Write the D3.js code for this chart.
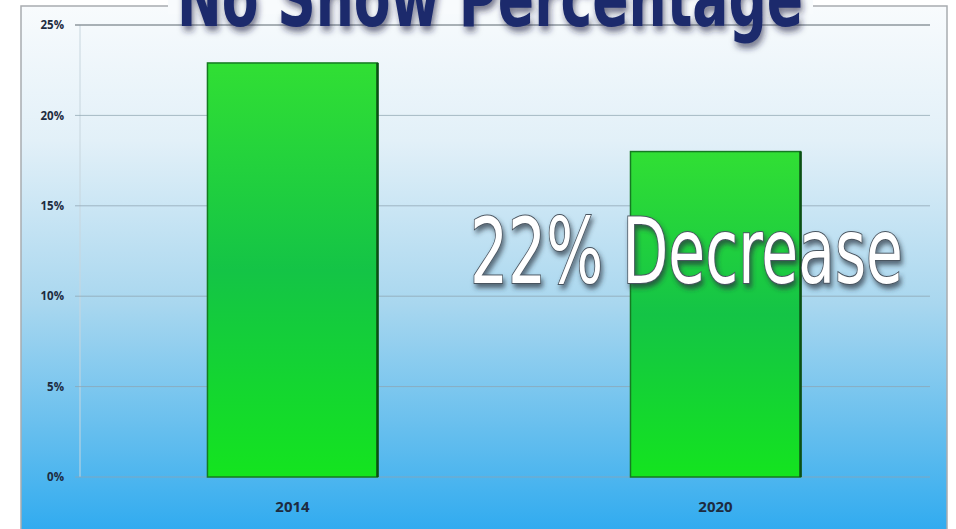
<!DOCTYPE html>
<html>
<head>
<meta charset="utf-8">
<script src="https://cdn.jsdelivr.net/npm/d3@7"></script>
<style>
  html, body { margin: 0; padding: 0; background: #fff; }
  svg { display: block; }
</style>
</head>
<body>
<svg id="chart" width="956" height="529"></svg>
<script>
// data
const years = ["2014", "2020"];
const noShow = [0.229, 0.18];
const yTicks = [0, 0.05, 0.10, 0.15, 0.20, 0.25];
const chartTitle = "No Show Percentage";
const callout = "22% Decrease";

const width = 956, height = 529;
const plot = { left: 78, right: 930, top: 25, bottom: 477 };

const svg = d3.select("#chart");
const defs = svg.append("defs");

// background gradient: white at top to sky blue at bottom
const bg = defs.append("linearGradient").attr("id", "bg")
  .attr("x1", 0).attr("y1", 0).attr("x2", 0).attr("y2", 1);
bg.append("stop").attr("offset", "0%").attr("stop-color", "#f8fbfd");
bg.append("stop").attr("offset", "25%").attr("stop-color", "#e2f0f8");
bg.append("stop").attr("offset", "55%").attr("stop-color", "#a9d7ef");
bg.append("stop").attr("offset", "80%").attr("stop-color", "#62bdee");
bg.append("stop").attr("offset", "100%").attr("stop-color", "#28a8f0");

// bar gradient
const barGrad = defs.append("linearGradient").attr("id", "barGrad")
  .attr("x1", 0).attr("y1", 0).attr("x2", 0).attr("y2", 1);
barGrad.append("stop").attr("offset", "0%").attr("stop-color", "#31df34");
barGrad.append("stop").attr("offset", "50%").attr("stop-color", "#14c446");
barGrad.append("stop").attr("offset", "100%").attr("stop-color", "#14e41f");

const shadow = defs.append("filter").attr("id", "shadow")
  .attr("x", "-10%").attr("y", "-20%").attr("width", "120%").attr("height", "150%");
shadow.append("feDropShadow").attr("dx", 2).attr("dy", 5)
  .attr("stdDeviation", 3).attr("flood-color", "#1a2340").attr("flood-opacity", 0.6);

const shadow2 = defs.append("filter").attr("id", "shadow2")
  .attr("x", "-10%").attr("y", "-20%").attr("width", "120%").attr("height", "150%");
shadow2.append("feDropShadow").attr("dx", 2).attr("dy", 4)
  .attr("stdDeviation", 2.5).attr("flood-color", "#2b3440").attr("flood-opacity", 0.7);

// chart frame
svg.append("rect")
  .attr("x", 21).attr("y", 6).attr("width", 926).attr("height", 540)
  .attr("fill", "url(#bg)")
  .attr("stroke", "#a8acb0").attr("stroke-width", 1.5);

const x = d3.scaleBand().domain(years)
  .range([plot.left, plot.right])
  .paddingInner(0.598).paddingOuter(0.306);
const y = d3.scaleLinear().domain([0, 0.25]).range([plot.bottom, plot.top]);

// plot area left edge (faint)
svg.append("line")
  .attr("x1", plot.left + 2).attr("x2", plot.left + 2)
  .attr("y1", plot.top).attr("y2", plot.bottom)
  .attr("stroke", "#c8d6de").attr("stroke-width", 1);

// gridlines
svg.append("g")
  .selectAll("line")
  .data(yTicks)
  .join("line")
  .attr("x1", plot.left - 3).attr("x2", plot.right)
  .attr("y1", d => y(d)).attr("y2", d => y(d))
  .attr("stroke", d => d === 0.25 ? "#8e979e" : "#8fa4b2")
  .attr("stroke-opacity", d => d === 0.25 ? 1 : 0.75)
  .attr("stroke-width", d => d === 0.25 ? 1.5 : 1);

// y axis labels
const yAxis = d3.axisLeft(y).tickValues(yTicks).tickFormat(d3.format(".0%")).tickSize(0).tickPadding(14);
const gy = svg.append("g").attr("transform", `translate(${plot.left},0)`).call(yAxis);
gy.select(".domain").remove();
gy.selectAll("text")
  .attr("font-family", "'Open Sans', 'Liberation Sans', sans-serif")
  .attr("font-weight", "bold").attr("font-size", 11.5)
  .attr("fill", "#1d2b40");

// bars
const bars = svg.append("g")
  .selectAll("g")
  .data(years.map((yr, i) => ({ yr, v: noShow[i] })))
  .join("g");

bars.append("rect")
  .attr("x", d => x(d.yr))
  .attr("y", d => y(d.v))
  .attr("width", x.bandwidth())
  .attr("height", d => y(0) - y(d.v))
  .attr("fill", "url(#barGrad)")
  .attr("stroke", "#157a22").attr("stroke-width", 1.5);

// darker right edge
bars.append("line")
  .attr("x1", d => x(d.yr) + x.bandwidth()).attr("x2", d => x(d.yr) + x.bandwidth())
  .attr("y1", d => y(d.v)).attr("y2", y(0))
  .attr("stroke", "#0b4f14").attr("stroke-width", 2.5);

// x axis labels
const xAxis = d3.axisBottom(x).tickSize(0).tickPadding(24);
const gx = svg.append("g").attr("transform", `translate(0,${plot.bottom})`).call(xAxis);
gx.select(".domain").remove();
gx.selectAll("text")
  .attr("font-family", "'Open Sans', 'Liberation Sans', sans-serif")
  .attr("font-weight", "bold").attr("font-size", 15)
  .attr("fill", "#1d2b40");

// title, cut off at the top like in the source image
svg.append("rect")
  .attr("x", 168).attr("y", 0).attr("width", 645).attr("height", 14)
  .attr("fill", "#f8fbfd");
svg.append("text")
  .attr("x", 177).attr("y", 26)
  .attr("textLength", 626).attr("lengthAdjust", "spacingAndGlyphs")
  .attr("font-family", "'Liberation Sans Narrow', 'DejaVu Sans Condensed', sans-serif")
  .attr("font-weight", "bold").attr("font-size", 80)
  .attr("fill", "#1b2a6c")
  .attr("filter", "url(#shadow)")
  .text(chartTitle);

// callout
svg.append("text")
  .attr("x", 470).attr("y", 283)
  .attr("textLength", 433).attr("lengthAdjust", "spacingAndGlyphs")
  .attr("font-family", "'Liberation Sans Narrow', 'DejaVu Sans Condensed', sans-serif")
  .attr("font-size", 90)
  .attr("fill", "#ffffff")
  .attr("stroke", "#4a5560").attr("stroke-width", 2)
  .attr("paint-order", "stroke")
  .attr("filter", "url(#shadow2)")
  .text(callout);
</script>
</body>
</html>
